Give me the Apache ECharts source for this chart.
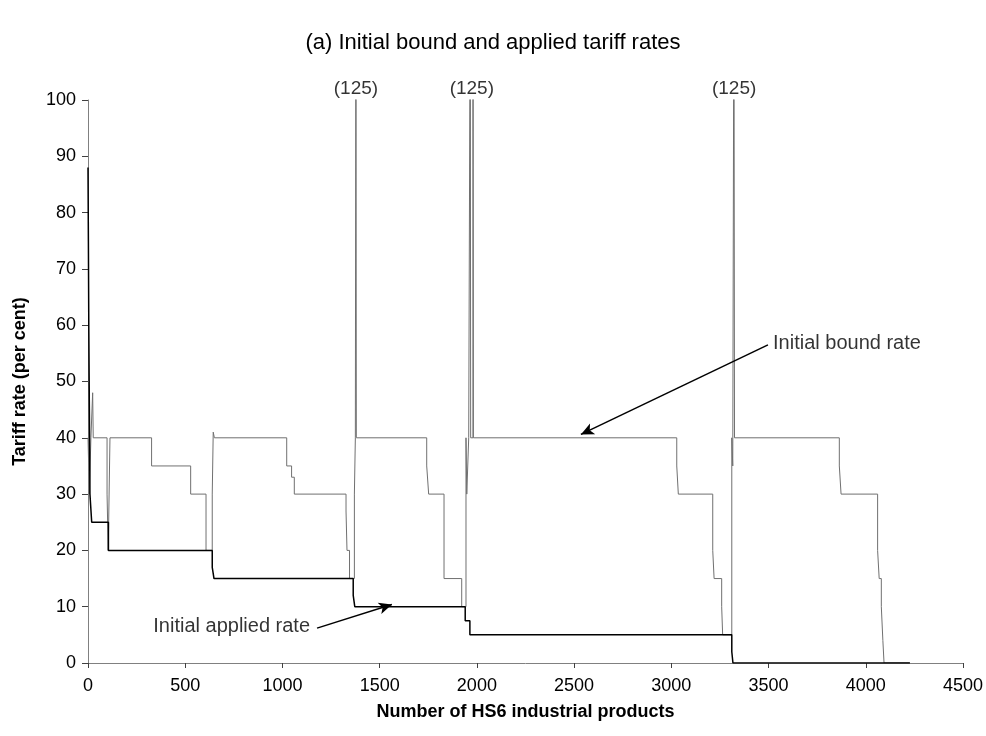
<!DOCTYPE html>
<html>
<head>
<meta charset="utf-8">
<script src="https://cdn.jsdelivr.net/npm/echarts@6/dist/echarts.min.js"></script>
<style>
  html, body { margin: 0; padding: 0; background: #fff; }
  #chart { width: 986px; height: 736px; }
</style>
</head>
<body>
<div id="chart"></div>
<script>
// Tariff peaks that run off the top of the axis
const PEAK = 125;
const peakLabelAt = [1378, 1974, 3323];

// Initial bound rate: [product rank, rate] — each level holds until the next point
const boundRate = [
  [0, 40], [7, 30], [15, 40], [24, 48], [27, 40], [98, 30], [104, 20], [113, 40],
  [327, 35], [528, 30], [607, 20], [639, 30], [644, 41], [650, 40],
  [1022, 35], [1047, 33], [1061, 30], [1327, 27], [1332, 20], [1345, 15],
  [1370, 30], [1375, 40], [1378, PEAK], [1380, 40],
  [1742, 35], [1752, 30], [1831, 15], [1922, 10],
  [1944, 40], [1948, 30], [1958, 40], [1966, PEAK], [1968, 40], [1980, PEAK], [1982, 40],
  [3028, 35], [3036, 30], [3213, 20], [3220, 15], [3259, 10], [3264, 5],
  [3311, 40], [3316, 35], [3322, PEAK], [3325, 40],
  [3864, 35], [3873, 30], [4061, 20], [4069, 15], [4080, 10], [4088, 4], [4094, 0], [4227, 0]
];

// Initial applied rate: [product rank, rate]
const appliedRate = [
  [0, 88], [2, 75], [4, 60], [7, 45], [10, 30], [19, 25], [105, 20],
  [639, 17], [648, 15], [1364, 12], [1372, 10], [1940, 7.5], [1964, 5],
  [3311, 2], [3317, 0], [4227, 0]
];

// Annotation texts and arrows, in data units
const boundNote = 'Initial bound rate';
const boundNoteAt = [3523, 56.8];
const boundArrow = [[3497, 56.5], [2535, 40.6]];
const appliedNote = 'Initial applied rate';
const appliedNoteAt = [1142, 6.4];
const appliedArrow = [[1178, 6.2], [1563, 10.4]];

const xTicks = { min: 0, max: 4500, interval: 500 };
const yTicks = { min: 0, max: 100, interval: 10 };

const FONT = '"Liberation Sans", Arial, Helvetica, sans-serif';

const chart = echarts.init(document.getElementById('chart'), null, { renderer: 'canvas' });

const arrowLine = (pts) => [
  { coord: pts[0], symbol: 'none' },
  { coord: pts[1], symbol: 'arrow', symbolSize: [9, 13] }
];

chart.setOption({
  animation: false,
  backgroundColor: '#ffffff',
  title: {
    text: '(a) Initial bound and applied tariff rates',
    left: 'center',
    top: 27,
    textStyle: { fontFamily: FONT, fontSize: 22, fontWeight: 'normal', color: '#000' }
  },
  grid: { left: 88, right: 23, top: 100, bottom: 73, containLabel: false },
  xAxis: {
    type: 'value',
    min: xTicks.min, max: xTicks.max, interval: xTicks.interval,
    name: 'Number of HS6 industrial products',
    nameLocation: 'middle',
    nameGap: 40,
    nameTextStyle: { fontFamily: FONT, fontSize: 18, fontWeight: 'bold', color: '#000' },
    axisLine: { lineStyle: { color: '#808080', width: 1 } },
    axisTick: { show: true, length: 5, lineStyle: { color: '#404040' } },
    axisLabel: {
      fontFamily: FONT, fontSize: 18, color: '#000', margin: 14,
      formatter: v => String(v)
    },
    splitLine: { show: false }
  },
  yAxis: {
    type: 'value',
    min: yTicks.min, max: yTicks.max, interval: yTicks.interval,
    name: 'Tariff rate (per cent)',
    nameLocation: 'middle',
    nameGap: 59,
    nameTextStyle: { fontFamily: FONT, fontSize: 18, fontWeight: 'bold', color: '#000' },
    axisLine: { show: true, lineStyle: { color: '#808080', width: 1 } },
    axisTick: { show: true, length: 6, lineStyle: { color: '#404040' } },
    axisLabel: { fontFamily: FONT, fontSize: 18, color: '#000', margin: 12 },
    splitLine: { show: false }
  },
  series: [
    {
      name: 'Initial bound rate',
      type: 'line',
      step: 'end',
      data: boundRate,
      showSymbol: false,
      lineStyle: { color: '#707070', width: 1 },
      itemStyle: { color: '#707070' },
      z: 2
    },
    {
      name: 'Initial applied rate',
      type: 'line',
      step: 'end',
      data: appliedRate,
      showSymbol: false,
      lineStyle: { color: '#000', width: 1.5 },
      itemStyle: { color: '#000' },
      z: 3
    },
    {
      // "(125)" notes above the clipped peaks
      type: 'scatter',
      data: peakLabelAt.map(x => [x, yTicks.max, PEAK]),
      symbolSize: 0,
      silent: true,
      label: {
        show: true,
        position: 'top',
        distance: 2,
        formatter: p => '(' + p.value[2] + ')',
        fontFamily: FONT, fontSize: 19, color: '#000'
      },
      z: 5
    },
    {
      // Series annotations with arrows
      type: 'scatter',
      symbolSize: 0,
      silent: true,
      data: [
        { value: boundNoteAt, label: { position: 'right', distance: 0, formatter: boundNote } },
        { value: appliedNoteAt, label: { position: 'left', distance: 0, formatter: appliedNote } }
      ],
      label: { show: true, fontFamily: FONT, fontSize: 20, color: '#000' },
      markLine: {
        silent: true,
        animation: false,
        label: { show: false },
        lineStyle: { color: '#000', width: 1.5, type: 'solid' },
        data: [arrowLine(boundArrow), arrowLine(appliedArrow)]
      },
      z: 6
    }
  ]
});
</script>
</body>
</html>
